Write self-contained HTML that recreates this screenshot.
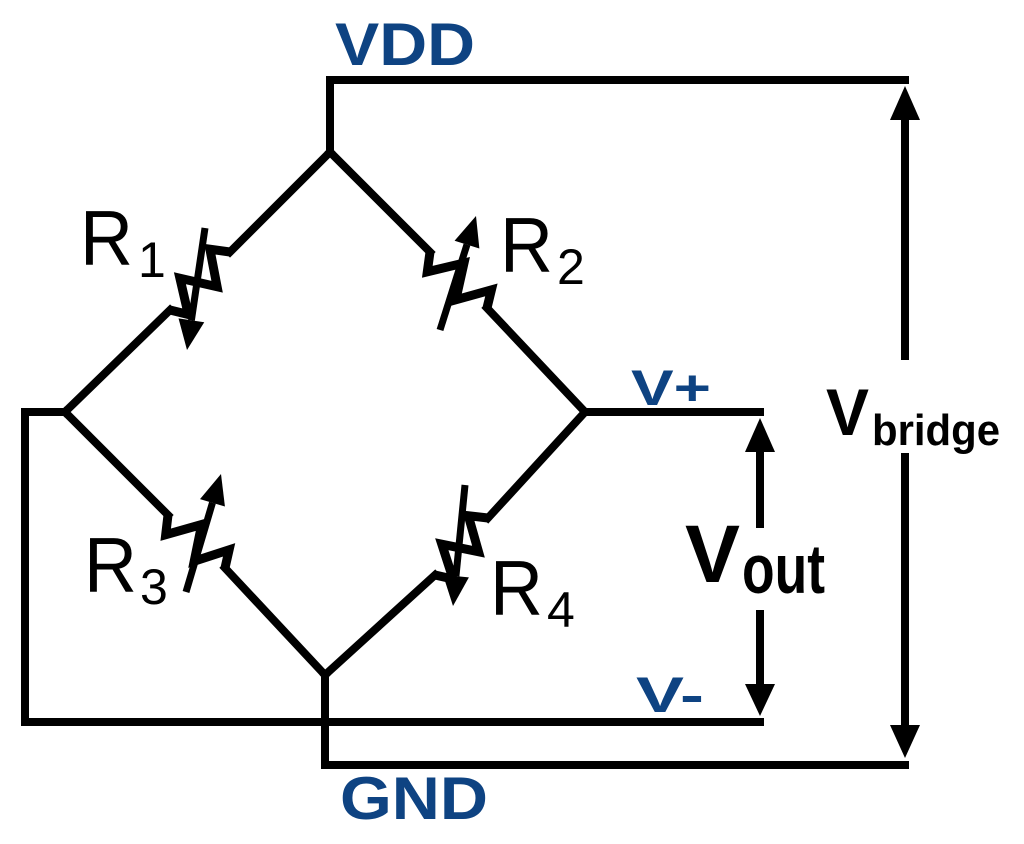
<!DOCTYPE html>
<html><head><style>
html,body{margin:0;padding:0;background:#fff;}
svg{display:block;}
text{font-family:"Liberation Sans",Arial,sans-serif;}
</style></head><body>
<svg id="s" width="1024" height="844" viewBox="0 0 1024 844" xmlns="http://www.w3.org/2000/svg">
<g stroke="#000" stroke-width="8" fill="none" stroke-linejoin="miter" stroke-linecap="square">
<polyline points="330,152 330,80 905,80"/>
<polyline points="325,675 325,765 905,765"/>
<polyline points="65,412 25,412 25,722 760,722"/>
<polyline points="585,412 760,412"/>
<line x1="330" y1="152" x2="230" y2="252"/>
<line x1="170" y1="310" x2="65" y2="412"/>
<line x1="330" y1="152" x2="430" y2="252"/>
<line x1="487" y1="308" x2="585" y2="412"/>
<line x1="65" y1="412" x2="168" y2="515"/>
<line x1="225" y1="568" x2="325" y2="675"/>
<line x1="585" y1="412" x2="488" y2="518"/>
<line x1="435" y1="575" x2="325" y2="675"/>
<line x1="760" y1="445" x2="760" y2="528" stroke-linecap="butt"/>
<line x1="760" y1="610" x2="760" y2="692" stroke-linecap="butt"/>
<line x1="905" y1="115" x2="905" y2="360" stroke-linecap="butt"/>
<line x1="905" y1="453" x2="905" y2="730" stroke-linecap="butt"/>
</g>
<g fill="#000">
<polygon points="760,418 745,452 775,452"/>
<polygon points="760,716 745,684 775,684"/>
<polygon points="905,86 890,120 920,120"/>
<polygon points="905,758 890,725 920,725"/>
</g>
<g id="z" stroke="#000" stroke-width="9" fill="none" stroke-linejoin="miter"></g>
<g id="ar" fill="#000" stroke="#000" stroke-width="7"></g>
<g font-weight="bold" fill="#0e4382">
<text x="335" y="65" font-size="60" textLength="140" lengthAdjust="spacingAndGlyphs">VDD</text>
<text x="340" y="819" font-size="60" textLength="148" lengthAdjust="spacingAndGlyphs">GND</text>
<text x="631" y="405" font-size="50" textLength="80" lengthAdjust="spacingAndGlyphs">V+</text>
<text x="636" y="712" font-size="50" textLength="68" lengthAdjust="spacingAndGlyphs">V-</text>
</g>
<g font-weight="bold" fill="#000">
<text x="685" y="582" font-size="82" textLength="55" lengthAdjust="spacingAndGlyphs">V</text>
<text x="742" y="593" font-size="70" textLength="83" lengthAdjust="spacingAndGlyphs">out</text>
<text x="826" y="435" font-size="66" textLength="43" lengthAdjust="spacingAndGlyphs">V</text>
<text x="872" y="445" font-size="44" textLength="128" lengthAdjust="spacingAndGlyphs">bridge</text>
</g>
<g fill="#000">
<text x="80" y="265" font-size="78" textLength="53" lengthAdjust="spacingAndGlyphs">R</text><text x="138" y="277" font-size="50">1</text>
<text x="500" y="272" font-size="78" textLength="53" lengthAdjust="spacingAndGlyphs">R</text><text x="557" y="284" font-size="50">2</text>
<text x="84" y="592" font-size="78" textLength="53" lengthAdjust="spacingAndGlyphs">R</text><text x="140" y="604" font-size="50">3</text>
<text x="490" y="615" font-size="78" textLength="53" lengthAdjust="spacingAndGlyphs">R</text><text x="547" y="627" font-size="50">4</text>
</g>
</svg>
<script>
var NS="http://www.w3.org/2000/svg";
function zig(ax,ay,bx,by){
 var dx=bx-ax,dy=by-ay,L=Math.hypot(dx,dy),nx=-dy/L,ny=dx/L,a=16;
 var ts=[0,0.15,0.4,0.65,0.88,1],os=[0,a,-a,a,-a,0],p=[];
 for(var i=0;i<ts.length;i++)p.push((ax+dx*ts[i]+nx*os[i]).toFixed(1)+","+(ay+dy*ts[i]+ny*os[i]).toFixed(1));
 var e=document.createElementNS(NS,"polyline");e.setAttribute("points",p.join(" "));document.getElementById("z").appendChild(e);
}
function arr(x1,y1,x2,y2){
 var dx=x2-x1,dy=y2-y1,L=Math.hypot(dx,dy),ux=dx/L,uy=dy/L,nx=-uy,ny=ux,h=30,w=13;
 var g=document.getElementById("ar");
 var l=document.createElementNS(NS,"line");
 l.setAttribute("x1",x1);l.setAttribute("y1",y1);l.setAttribute("x2",x2-ux*h);l.setAttribute("y2",y2-uy*h);g.appendChild(l);
 var p=document.createElementNS(NS,"polygon");
 p.setAttribute("stroke","none");
 p.setAttribute("points",x2+","+y2+" "+(x2-ux*h+nx*w)+","+(y2-uy*h+ny*w)+" "+(x2-ux*h-nx*w)+","+(y2-uy*h-ny*w));g.appendChild(p);
}
zig(230,252,170,310);arr(205,228,187,350);
zig(430,252,487,308);arr(440,330,476,216);
zig(168,515,225,568);arr(186,592,221,474);
zig(488,518,435,575);arr(465,485,453,606);
</script>
</body></html>
